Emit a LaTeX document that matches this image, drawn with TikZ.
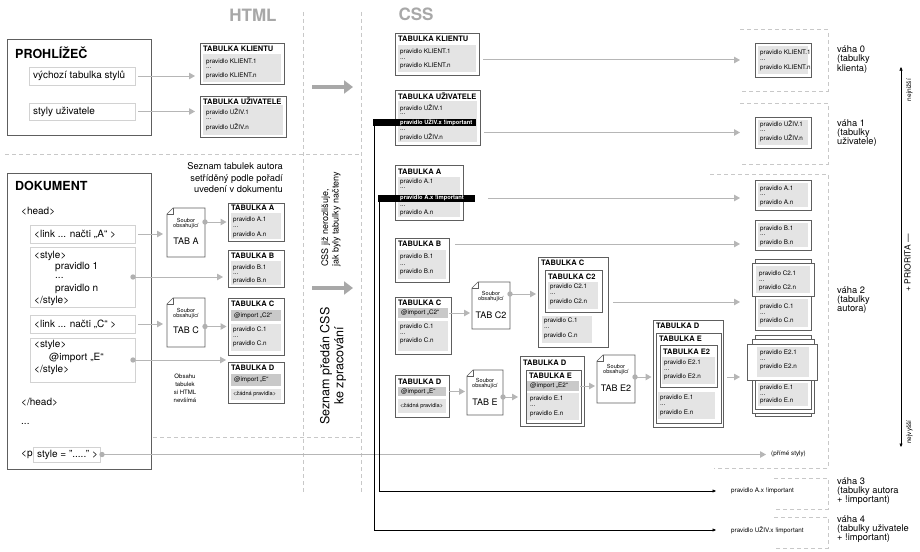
\documentclass[tikz,border=0pt]{standalone}
\usepackage{fontspec}
\setmainfont{TeX Gyre Heros}
\usetikzlibrary{arrows.meta,calc}

\definecolor{framec}{HTML}{5E5E5E}
\definecolor{inboxc}{HTML}{D2D2D2}
\definecolor{bandc}{HTML}{E4E4E4}
\definecolor{banddc}{HTML}{C9C9C9}
\definecolor{linec}{HTML}{B6B6B6}
\definecolor{dashc}{HTML}{C8C8C8}
\definecolor{headc}{HTML}{A8A8A8}
\definecolor{dotc}{HTML}{B0B0B0}

% box given by its corners: style, name, x1, y1, x2, y2
\newcommand\drawbox[6]{%
  \pgfmathsetmacro\bxw{#5-#3}%
  \pgfmathsetmacro\bxh{#6-#4}%
  \node[#1, minimum width=\bxw pt, minimum height=\bxh pt] (#2) at (#3,#4) {};%
}
% text: style, name, x, y, text
\newcommand\puttext[5]{\node[#1] (#2) at (#3,#4) {#5};}
% file symbol with a folded corner drawn round a named node
\newcommand\docfile[1]{%
  \draw[docline, fill=white] ([xshift=6pt]#1.north west) -- (#1.north east) -- (#1.south east)
     -- (#1.south west) -- ([yshift=-6pt]#1.north west) -- cycle;
  \draw[docline] ([yshift=-6pt]#1.north west) -- ([xshift=6pt,yshift=-6pt]#1.north west)
     -- ([xshift=6pt]#1.north west);
}

\begin{document}
\begin{tikzpicture}[x=1pt,y=-1pt,
  frame/.style={draw=framec, line width=0.6pt, fill=white, inner sep=0pt, outer sep=0pt, anchor=north west},
  inbox/.style={draw=inboxc, line width=0.7pt, fill=white, inner sep=0pt, outer sep=0pt, anchor=north west},
  docn/.style={draw=none, inner sep=0pt, outer sep=0pt, anchor=north west},
  band/.style={fill=bandc, draw=none, inner sep=0pt, outer sep=0pt, anchor=north west},
  bandd/.style={fill=banddc, draw=none, inner sep=0pt, outer sep=0pt, anchor=north west},
  bandk/.style={fill=black, draw=none, inner sep=0pt, outer sep=0pt, anchor=north west},
  ttl/.style={font=\bfseries\fontsize{7.5}{8}\selectfont, anchor=west, inner sep=0pt},
  rl/.style={font=\fontsize{6.3}{7}\selectfont, anchor=west, inner sep=0pt},
  rls/.style={font=\fontsize{5.6}{6}\selectfont, anchor=west, inner sep=0pt},
  rlk/.style={font=\bfseries\fontsize{5.8}{6}\selectfont, text=white, anchor=west, inner sep=0pt},
  big/.style={font=\bfseries\fontsize{12.5}{13}\selectfont, anchor=west, inner sep=0pt},
  mid/.style={font=\fontsize{10}{11}\selectfont, anchor=west, inner sep=0pt},
  docs/.style={font=\fontsize{5.6}{6}\selectfont, inner sep=0pt},
  docb/.style={font=\fontsize{9}{10}\selectfont, inner sep=0pt},
  wt/.style={font=\fontsize{9.3}{9.3}\selectfont, align=left, anchor=west, inner sep=0pt},
  hd/.style={font=\bfseries\fontsize{17}{17}\selectfont, text=headc, inner sep=0pt},
  conn/.style={draw=linec, line width=1pt, -{Triangle[length=6pt,width=6.5pt]}},
  imp/.style={draw=black, line width=0.5pt, -{Triangle[length=3.5pt,width=3pt]}},
  fat/.style={draw=headc, line width=4pt, -{Triangle[length=9pt,width=13pt]}},
  sepline/.style={draw=dashc, line width=1pt, dash pattern=on 4pt off 3pt},
  docline/.style={draw=framec, line width=0.6pt},
  axisline/.style={draw=black, line width=0.5pt, {Triangle[length=3.5pt,width=3pt]}-{Triangle[length=3.5pt,width=3pt]}},
]
\useasboundingbox (0,0) rectangle (920,551);
\fill[white] (0,0) rectangle (920,551);

% ---------- separators ----------
\draw[sepline] (5,154) -- (361,154);
\draw[sepline] (125,437) -- (361,437);
\draw[sepline] (303,12) -- (303,492);
\draw[sepline] (361,12) -- (361,492);
\draw[sepline] (740,30) -- (828,30) -- (828,91) -- (740,91);
\draw[sepline] (740,103) -- (828,103) -- (828,164) -- (740,164);
\draw[sepline] (710,174) -- (828,174) -- (828,468) -- (714,468);
\draw[sepline] (774,478) -- (828,478) -- (828,509) -- (774,509);
\draw[sepline] (774,517) -- (828,517) -- (828,548) -- (774,548);

% ---------- headings ----------
\puttext{hd}{hHTML}{253}{15.5}{HTML}
\puttext{hd}{hCSS}{416}{14}{CSS}

% ---------- browser ----------
\drawbox{frame}{prohl}{7}{39}{151}{135}
\puttext{big}{prohlT}{15}{53}{PROHLÍŽEČ}
\drawbox{inbox}{vych}{29}{67}{135}{85}
\puttext{mid}{vychT}{33}{76}{výchozí tabulka stylů}
\drawbox{inbox}{styly}{29}{103}{135}{120}
\puttext{mid}{stylyT}{33}{111.5}{styly uživatele}

% ---------- HTML: client and user sheets ----------
\drawbox{frame}{hk}{200}{43}{284}{84}
\drawbox{band}{hkb}{203}{54}{281}{82}
\puttext{ttl}{hkt}{203}{49}{TABULKA KLIENTU}
\puttext{rl}{hk1}{206}{62}{pravidlo KLIENT.1}
\puttext{rl}{hk2}{206}{68.5}{...}
\puttext{rl}{hk3}{206}{76}{pravidlo KLIENT.n}

\drawbox{frame}{hu}{200}{96}{286}{137}
\drawbox{band}{hub}{203}{105}{283}{135}
\puttext{ttl}{hut}{203}{101}{TABULKA UŽIVATELE}
\puttext{rl}{hu1}{206}{112}{pravidlo UŽIV.1}
\puttext{rl}{hu2}{206}{119.5}{...}
\puttext{rl}{hu3}{206}{127}{pravidlo UŽIV.n}

% ---------- document ----------
\drawbox{frame}{dok}{7}{173}{151}{469}
\puttext{big}{dokT}{15}{186}{DOKUMENT}
\puttext{mid}{headO}{21}{211}{<head>}
\drawbox{inbox}{lnkA}{30}{225}{135}{243}
\puttext{mid}{lnkAT}{34}{234}{<link ... načti „A“ >}
\drawbox{inbox}{sty}{30}{247}{135}{307}
\puttext{mid}{sty1}{34}{256}{<style>}
\puttext{mid}{sty2}{55}{266.5}{pravidlo 1}
\puttext{mid}{sty3}{55}{277.5}{...}
\puttext{mid}{sty4}{55}{289}{pravidlo n}
\puttext{mid}{sty5}{34}{300.5}{</style>}
\drawbox{inbox}{lnkC}{30}{315}{135}{333}
\puttext{mid}{lnkCT}{34}{324}{<link ... načti „C“ >}
\drawbox{inbox}{styE}{30}{338}{135}{382}
\puttext{mid}{styE1}{34}{345}{<style>}
\puttext{mid}{styE2}{49}{358}{@import „E“}
\puttext{mid}{styE3}{34}{370}{</style>}
\puttext{mid}{headC}{21}{402}{</head>}
\puttext{mid}{dotsT}{21}{424}{...}
\puttext{mid}{pT}{21}{454.5}{<p}
\drawbox{inbox}{pst}{33}{447}{100}{462}
\puttext{mid}{pstT}{37}{454.5}{style = "....." >}

% ---------- HTML: author sheets ----------
\node[font=\fontsize{9.3}{11.5}\selectfont, align=right, anchor=east, inner sep=0pt] (seznam)
  at (283,178) {Seznam tabulek autora\\setříděný podle pořadí\\uvedení v dokumentu};

\drawbox{docn}{docA}{167}{208}{205}{257}
\docfile{docA}
\puttext{docs}{docA1}{186}{220}{Soubor}
\puttext{docs}{docA2}{186}{226.5}{obsahující}
\puttext{docb}{docA3}{186}{241}{TAB A}

\drawbox{docn}{docC}{167}{298}{205}{347}
\docfile{docC}
\puttext{docs}{docC1}{186}{310}{Soubor}
\puttext{docs}{docC2}{186}{316.5}{obsahující}
\puttext{docb}{docC3}{186}{330}{TAB C}

\drawbox{frame}{tA}{228}{203}{284}{241}
\drawbox{band}{tAb}{231}{213}{281}{239}
\puttext{ttl}{tAt}{231}{208}{TABULKA A}
\puttext{rl}{tA1}{233}{220}{pravidlo A.1}
\puttext{rl}{tA2}{233}{227}{...}
\puttext{rl}{tA3}{233}{234.5}{pravidlo A.n}

\drawbox{frame}{tB}{228}{250}{284}{287}
\drawbox{band}{tBb}{231}{261}{281}{285}
\puttext{ttl}{tBt}{231}{256}{TABULKA B}
\puttext{rl}{tB1}{233}{267.5}{pravidlo B.1}
\puttext{rl}{tB2}{233}{274.5}{...}
\puttext{rl}{tB3}{233}{281}{pravidlo B.n}

\drawbox{frame}{tC}{228}{298}{284}{355}
\drawbox{bandd}{tCi}{231}{310}{281}{321}
\drawbox{band}{tCb}{231}{324}{281}{351}
\puttext{ttl}{tCt}{231}{304}{TABULKA C}
\puttext{rl}{tC0}{234}{315.5}{@import „C2“}
\puttext{rl}{tC1}{233}{330}{pravidlo C.1}
\puttext{rl}{tC2}{233}{337}{...}
\puttext{rl}{tC3}{233}{344}{pravidlo C.n}

\drawbox{frame}{tD}{228}{362}{284}{403}
\drawbox{bandd}{tDi}{231}{374}{281}{386}
\drawbox{band}{tDb}{231}{389}{281}{400}
\puttext{ttl}{tDt}{231}{368}{TABULKA D}
\puttext{rl}{tD0}{234}{380}{@import „E“}
\puttext{rls}{tD1}{233}{394.5}{<žádná pravidla>}

\node[font=\fontsize{6}{8}\selectfont, align=center, inner sep=0pt] (obsahu) at (185,388)
  {Obsahu\\tabulek\\si HTML\\nevšímá};

% ---------- HTML connectors ----------
\draw[conn, shorten >=5pt] ([xshift=3pt]vych.east) -- (vych.east -| hk.west);
\draw[conn, shorten >=5pt] ([xshift=3pt]styly.east) -- (styly.east -| hu.west);
\draw[conn, shorten >=4pt] ([xshift=3pt]lnkA.east) -- (lnkA.east -| docA.west);
\draw[conn, shorten >=4pt] ([xshift=3pt]lnkC.east) -- (lnkC.east -| docC.west);
\coordinate (styOut) at ([xshift=-2pt]sty.east);
\draw[conn, shorten >=5pt] (styOut) -- (styOut -| tB.west);
\fill[dotc] (styOut) circle (2.7pt);
\coordinate (styEOut) at ([xshift=-2pt]styE.east);
\draw[conn, shorten >=2pt] (styEOut) -- (styEOut -| tD.west);
\fill[dotc] (styEOut) circle (2.7pt);
\coordinate (docAOut) at (docA.east |- tA.west);
\draw[conn, shorten >=1.5pt] (docAOut) -- (tA.west);
\fill[dotc] (docAOut) circle (2.7pt);
\coordinate (docCOut) at (docC.east |- tC.west);
\draw[conn, shorten >=1.5pt] (docCOut) -- (tC.west);
\fill[dotc] (docCOut) circle (2.7pt);

% ---------- hand-over arrows and notes ----------
\coordinate (f1a) at (312,87); \coordinate (f1b) at (353,87);
\draw[fat] (f1a) -- (f1b);
\coordinate (f2a) at (312,288); \coordinate (f2b) at (353,288);
\draw[fat] (f2a) -- (f2b);
\node[rotate=90, anchor=west, align=left, font=\fontsize{9}{10.5}\selectfont, inner sep=0pt] (nerozl)
  at (331,267) {CSS již nerozlišuje,\\jak byly tabulky načteny};
\node[rotate=90, align=center, font=\fontsize{12.5}{14}\selectfont, inner sep=0pt] (predan)
  at (333,366) {Seznam předán CSS\\ke zpracování};

% ---------- CSS: sheets in order ----------
\drawbox{frame}{ck}{395}{33}{479}{75}
\drawbox{band}{ckb}{398}{45}{476}{72}
\puttext{ttl}{ckt}{398}{39}{TABULKA KLIENTU}
\puttext{rl}{ck1}{400}{52}{pravidlo KLIENT.1}
\puttext{rl}{ck2}{400}{59}{...}
\puttext{rl}{ck3}{400}{66}{pravidlo KLIENT.n}

\drawbox{frame}{cu}{395}{90}{480}{145}
\drawbox{band}{cub}{398}{101}{477}{142}
\puttext{ttl}{cut}{398}{96}{TABULKA UŽIVATELE}
\puttext{rl}{cu1}{400}{108}{pravidlo UŽIV.1}
\puttext{rl}{cu2}{400}{114.5}{...}
\drawbox{bandk}{cuk}{373}{119}{476}{126}
\puttext{rlk}{cuk1}{400}{122.5}{pravidlo UŽIV.x !important}
\puttext{rl}{cu3}{400}{130}{...}
\puttext{rl}{cu4}{400}{137.5}{pravidlo UŽIV.n}

\drawbox{frame}{cA}{395}{165}{463}{220}
\drawbox{band}{cAb}{398}{177}{460}{217}
\puttext{ttl}{cAt}{398}{172}{TABULKA A}
\puttext{rl}{cA1}{400}{182}{pravidlo A.1}
\puttext{rl}{cA2}{400}{188.5}{...}
\drawbox{bandk}{cAk}{378}{194.5}{475}{201.5}
\puttext{rlk}{cAk1}{400}{198}{pravidlo A.x !important}
\puttext{rl}{cA3}{400}{206}{...}
\puttext{rl}{cA4}{400}{213}{pravidlo A.n}

\drawbox{frame}{cB}{395}{238}{449}{282}
\drawbox{band}{cBb}{398}{250}{446}{279}
\puttext{ttl}{cBt}{398}{244}{TABULKA B}
\puttext{rl}{cB1}{400}{257}{pravidlo B.1}
\puttext{rl}{cB2}{400}{265}{...}
\puttext{rl}{cB3}{400}{272}{pravidlo B.n}

\drawbox{frame}{cC}{395}{297}{451}{354}
\drawbox{bandd}{cCi}{398}{308}{448}{318}
\drawbox{band}{cCb}{398}{321}{448}{351}
\puttext{ttl}{cCt}{398}{303}{TABULKA C}
\puttext{rl}{cC0}{401}{313}{@import „C2“}
\puttext{rl}{cC1}{400}{327}{pravidlo C.1}
\puttext{rl}{cC2}{400}{334}{...}
\puttext{rl}{cC3}{400}{341}{pravidlo C.n}

\drawbox{frame}{cD}{395}{375}{449}{417}
\drawbox{bandd}{cDi}{398}{387}{446}{396}
\drawbox{band}{cDb}{398}{399}{446}{413}
\puttext{ttl}{cDt}{398}{382}{TABULKA D}
\puttext{rl}{cD0}{401}{391.5}{@import „E“}
\puttext{rls}{cD1}{400}{406}{<žádná pravidla>}

% imported files
\drawbox{docn}{docC2}{472}{282}{510}{329}
\docfile{docC2}
\puttext{docs}{docC2a}{491}{293}{Soubor}
\puttext{docs}{docC2b}{491}{299.5}{obsahující}
\puttext{docb}{docC2c}{491}{315}{TAB C2}

\drawbox{docn}{docE}{467}{370}{503}{415}
\docfile{docE}
\puttext{docs}{docEa}{485}{380}{Soubor}
\puttext{docs}{docEb}{485}{386.5}{obsahující}
\puttext{docb}{docEc}{485}{402}{TAB E}

\drawbox{docn}{docE2}{597}{355}{635}{403}
\docfile{docE2}
\puttext{docs}{docE2a}{616}{366}{Soubor}
\puttext{docs}{docE2b}{616}{372.5}{obsahující}
\puttext{docb}{docE2c}{616}{388}{TAB E2}

% sheet C with C2 imported
\drawbox{frame}{cx}{538}{257}{608}{347}
\puttext{ttl}{cxt}{541}{263}{TABULKA C}
\drawbox{frame}{cx2}{545}{270}{602}{312}
\puttext{ttl}{cx2t}{548}{277}{TABULKA C2}
\drawbox{band}{cx2b}{548}{282}{598}{309}
\puttext{rl}{cx21}{550}{287}{pravidlo C2.1}
\puttext{rl}{cx22}{550}{294}{...}
\puttext{rl}{cx23}{550}{302}{pravidlo C2.n}
\drawbox{band}{cxb}{542}{316}{592}{343}
\puttext{rl}{cx1}{544}{321}{pravidlo C.1}
\puttext{rl}{cx2x}{544}{328}{...}
\puttext{rl}{cx3}{544}{336}{pravidlo C.n}

% sheet D with E imported
\drawbox{frame}{dx}{520}{356}{584}{426}
\puttext{ttl}{dxt}{523}{363}{TABULKA D}
\drawbox{frame}{dxe}{526}{370}{581}{423}
\puttext{ttl}{dxet}{529}{376}{TABULKA E}
\drawbox{bandd}{dxei}{527}{381}{579}{391}
\puttext{rl}{dxe0}{530}{386}{@import „E2“}
\drawbox{band}{dxeb}{527}{393}{579}{420}
\puttext{rl}{dxe1}{530}{399}{pravidlo E.1}
\puttext{rl}{dxe2}{530}{406}{...}
\puttext{rl}{dxe3}{530}{414}{pravidlo E.n}

% sheet D with E and E2 imported
\drawbox{frame}{dxx}{653}{320}{723}{427}
\puttext{ttl}{dxxt}{656}{326}{TABULKA D}
\drawbox{frame}{dxxe}{656}{333}{721}{423}
\puttext{ttl}{dxxet}{659}{339}{TABULKA E}
\drawbox{frame}{dxx2}{660}{345}{717}{387}
\puttext{ttl}{dxx2t}{663}{352}{TABULKA E2}
\drawbox{band}{dxx2b}{662}{357}{715}{384}
\puttext{rl}{dxx21}{664}{363}{pravidlo E2.1}
\puttext{rl}{dxx22}{664}{370}{...}
\puttext{rl}{dxx23}{664}{377}{pravidlo E2.n}
\drawbox{band}{dxxb}{658}{392}{715}{419}
\puttext{rl}{dxx1}{660}{398}{pravidlo E.1}
\puttext{rl}{dxx2x}{660}{405}{...}
\puttext{rl}{dxx3}{660}{413}{pravidlo E.n}

% ---------- resulting rule sets ----------
\drawbox{frame}{rk}{755}{43}{811}{77}
\drawbox{band}{rkb}{758}{46}{808}{74}
\puttext{rl}{rk1}{760}{53}{pravidlo KLIENT.1}
\puttext{rl}{rk2}{760}{60}{...}
\puttext{rl}{rk3}{760}{68}{pravidlo KLIENT.n}

\drawbox{frame}{ru}{755}{117}{811}{148}
\drawbox{band}{rub}{758}{120}{808}{145}
\puttext{rl}{ru1}{760}{124.5}{pravidlo UŽIV.1}
\puttext{rl}{ru2}{760}{131}{...}
\puttext{rl}{ru3}{760}{138}{pravidlo UŽIV.n}

\drawbox{frame}{rA}{755}{180}{811}{210}
\drawbox{band}{rAb}{758}{183}{808}{207}
\puttext{rl}{rA1}{760}{188.5}{pravidlo A.1}
\puttext{rl}{rA2}{760}{195}{...}
\puttext{rl}{rA3}{760}{203}{pravidlo A.n}

\drawbox{frame}{rB}{755}{220}{811}{250}
\drawbox{band}{rBb}{758}{223}{808}{247}
\puttext{rl}{rB1}{760}{228.5}{pravidlo B.1}
\puttext{rl}{rB2}{760}{235}{...}
\puttext{rl}{rB3}{760}{243}{pravidlo B.n}

% stacked C
\drawbox{frame}{rcl}{755}{259}{811}{330}
\drawbox{frame}{rc2}{752}{263}{814}{296}
\drawbox{band}{rc2b}{756}{266}{810}{293}
\puttext{rl}{rc21}{759}{274}{pravidlo C2.1}
\puttext{rl}{rc22}{759}{281}{...}
\puttext{rl}{rc23}{759}{288}{pravidlo C2.n}
\drawbox{band}{rcb}{758}{299}{808}{327}
\puttext{rl}{rc1}{760}{307}{pravidlo C.1}
\puttext{rl}{rc2x}{760}{314}{...}
\puttext{rl}{rc3}{760}{321}{pravidlo C.n}

% stacked D / E / E2
\drawbox{frame}{rdl}{755}{335}{811}{416}
\drawbox{frame}{rel}{752}{339}{814}{413}
\drawbox{frame}{re2}{747}{344}{817}{380}
\drawbox{band}{re2b}{757}{347}{809}{377}
\puttext{rl}{re21}{760}{353}{pravidlo E2.1}
\puttext{rl}{re22}{760}{360}{...}
\puttext{rl}{re23}{760}{367}{pravidlo E2.n}
\drawbox{frame}{rer}{755}{380}{811}{409}
\drawbox{band}{reb}{758}{383}{808}{406}
\puttext{rl}{re1}{760}{388}{pravidlo E.1}
\puttext{rl}{re2x}{760}{395}{...}
\puttext{rl}{re3}{760}{401}{pravidlo E.n}

% weights
\node[wt] (w0) at (837,59.5) {váha 0\\(tabulky\\klienta)};
\node[wt] (w1) at (837,133) {váha 1\\(tabulky\\uživatele)};
\node[wt] (w2) at (837,300) {váha 2\\(tabulky\\autora)};
\node[wt] (w3) at (837,491) {váha 3\\(tabulky autora\\+ !important)};
\node[wt] (w4) at (837,529) {váha 4\\(tabulky uživatele\\+ !important)};

% priority axis
\coordinate (axTop) at (901,67);
\coordinate (axBot) at (901,447);
\draw[axisline] (axTop) -- (axBot);
\node[rotate=90, font=\fontsize{6.5}{7}\selectfont, inner sep=0pt] (nejn) at (909.5,90) {nejnižší};
\node[rotate=90, font=\fontsize{6.5}{7}\selectfont, inner sep=0pt] (nejv) at (909.5,432) {nejvyšší};
\node[rotate=90, font=\fontsize{8.5}{9}\selectfont, inner sep=0pt] (prio) at (907.5,263) {+ PRIORITA —};

% ---------- CSS connectors ----------
\draw[conn, shorten >=15pt] ([xshift=4pt]rk.west -| ck.east) -- (rk.west);
\draw[conn, shorten >=15pt] ([xshift=4pt]ru.west -| cu.east) -- (ru.west);
\draw[conn, shorten >=15pt] ([xshift=13pt]cAk.east) -- (cAk.east -| rA.west);
\draw[conn, shorten >=15pt] ([xshift=6pt]cBt.west -| cB.east) -- (cBt.west -| rB.west);
\draw[conn, shorten >=12pt] ([xshift=5pt]cx.east) -- (cx.east -| rc2.west);

\draw[conn, shorten >=2pt] ([xshift=1pt]cCi.east) -- (cCi.east -| docC2.west);
\coordinate (c2Out) at (510,294);
\draw[conn, shorten >=2pt] (c2Out) -- (c2Out -| cx.west);
\fill[dotc] (c2Out) circle (2.7pt);

\draw[conn, shorten >=2pt] ([xshift=3pt]cDi.east) -- (cDi.east -| docE.west);
\coordinate (eOut) at (503,397);
\draw[conn, shorten >=2pt] (eOut) -- (eOut -| dx.west);
\fill[dotc] (eOut) circle (2.7pt);

\draw[conn, shorten >=2pt] ([xshift=1pt]dxei.east) -- (dxei.east -| docE2.west);
\coordinate (e2Out) at (635,377);
\draw[conn, shorten >=1.5pt] (e2Out) -- (e2Out -| dxx.west);
\fill[dotc] (e2Out) circle (2.7pt);
\draw[conn, shorten >=7pt] ([xshift=4pt]e2Out -| dxx.east) -- (e2Out -| re2.west);

% inline style of the paragraph
\node[rl, anchor=west] (prime) at (771,454) {(přímé styly)};
\coordinate (pOut) at ([xshift=2pt]pst.east);
\draw[conn, shorten >=5pt] (pOut) -- (pOut -| prime.west);
\fill[dotc] (pOut) circle (2.7pt);

% !important rules taken out
\node[rl] (impA) at (731,491) {pravidlo A.x !important};
\node[rl] (impU) at (731,530) {pravidlo UŽIV.x !important};
\draw[imp] ([xshift=1pt]cuk.south west) -- ([xshift=1pt]cuk.south west |- impU.west) -- ([xshift=-15pt]impU.west);
\draw[imp] ([xshift=1pt]cAk.south west) -- ([xshift=1pt]cAk.south west |- impA.west) -- ([xshift=-15pt]impA.west);

\end{tikzpicture}
\end{document}
